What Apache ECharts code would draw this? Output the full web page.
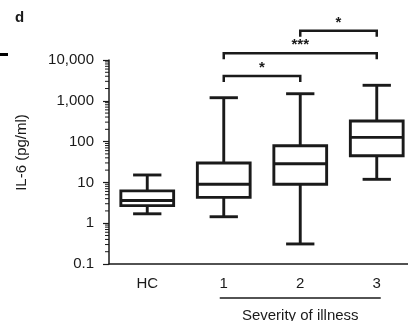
<!DOCTYPE html>
<html>
<head>
<meta charset="utf-8">
<script src="https://cdn.jsdelivr.net/npm/echarts@6/dist/echarts.min.js"></script>
<style>
html,body{margin:0;padding:0;background:#fff;}
#chart{width:408px;height:321px;}
</style>
</head>
<body>
<div id="chart"></div>
<script>
// ---- data ----
const categories = ['HC', '1', '2', '3'];
const whiskerMin = [1.7, 1.44, 0.31, 11.9];
const q1 = [2.7, 4.3, 9.0, 45];
const median = [3.6, 9.0, 28.7, 127];
const q3 = [6.2, 30, 79, 320];
const whiskerMax = [15.2, 1190, 1490, 2400];
const yTickValues = [0.1, 1, 10, 100, 1000, 10000];
const yTickLabels = ['0.1', '1', '10', '100', '1,000', '10,000'];
const minorMultipliers = [2, 3, 4, 5, 6, 7, 8, 9];
const comparisonFrom = [1, 1, 2];
const comparisonTo = [2, 3, 3];
const comparisonLevels = [4050, 14600, 52300];
const comparisonLabels = ['*', '***', '*'];
const groupLabel = 'Severity of illness';
const yAxisTitle = 'IL-6 (pg/ml)';
const panelLetter = 'd';

// ---- build ----
const ink = '#1a1a1a';
const font = 'Liberation Sans, Arial, sans-serif';
const boxData = categories.map((c, i) => [i, whiskerMin[i], q1[i], median[i], q3[i], whiskerMax[i]]);
const minorData = [];
yTickValues.slice(0, -1).forEach(d => minorMultipliers.forEach(m => minorData.push([0, d * m])));
const bracketData = comparisonLevels.map((lv, i) => [comparisonFrom[i], comparisonTo[i], lv]);

function bandOf(api, v) {
  return api.coord([1, v])[0] - api.coord([0, v])[0];
}

const chart = echarts.init(document.getElementById('chart'), null, {renderer: 'canvas'});
chart.setOption({
  animation: false,
  backgroundColor: '#fff',
  grid: {left: 109, top: 60, right: -7, bottom: 57, containLabel: false, outerBoundsMode: 'none'},
  xAxis: {
    type: 'category',
    data: categories,
    axisLine: {lineStyle: {color: ink, width: 1.5}},
    axisTick: {alignWithLabel: true, length: 5, lineStyle: {color: ink, width: 1.5}},
    axisLabel: {color: ink, fontSize: 15, fontFamily: font, margin: 12},
    splitLine: {show: false}
  },
  yAxis: {
    type: 'log',
    logBase: 10,
    min: 0.1,
    max: 10000,
    axisLine: {show: true, lineStyle: {color: ink, width: 1.5}},
    axisTick: {show: true, length: 6, lineStyle: {color: ink, width: 1.2}},
    axisLabel: {
      color: ink, fontSize: 15, fontFamily: font, margin: 15,
      formatter: v => {
        const idx = yTickValues.findIndex(t => Math.abs(Math.log10(t) - Math.log10(v)) < 1e-6);
        return idx >= 0 ? yTickLabels[idx] : '';
      }
    },
    splitLine: {show: false}
  },
  graphic: [
    {type: 'text', left: 15, top: 10, style: {text: panelLetter, fill: ink, font: 'bold 15px ' + font}},
    {type: 'rect', shape: {x: 0, y: 53, width: 8, height: 3}, style: {fill: '#000'}},
    {type: 'text', x: 22, y: 152.5, rotation: Math.PI / 2,
      style: {text: yAxisTitle, fill: ink, font: '15px ' + font, align: 'center', verticalAlign: 'middle'}}
  ],
  series: [
    {
      type: 'custom',
      name: 'minorTicks',
      clip: false,
      silent: true,
      encode: {x: 0, y: 1},
      data: minorData,
      renderItem: (params, api) => {
        const v = api.value(1);
        const p = api.coord([0, v]);
        const x0 = p[0] - bandOf(api, v) / 2;
        return {type: 'line', shape: {x1: x0 - 4, y1: p[1], x2: x0, y2: p[1]},
          style: {stroke: ink, lineWidth: 1}};
      }
    },
    {
      type: 'custom',
      name: 'IL-6',
      clip: false,
      encode: {x: 0, y: [1, 2, 3, 4, 5]},
      data: boxData,
      renderItem: (params, api) => {
        const x = api.value(0);
        const pMin = api.coord([x, api.value(1)]);
        const pQ1 = api.coord([x, api.value(2)]);
        const pMed = api.coord([x, api.value(3)]);
        const pQ3 = api.coord([x, api.value(4)]);
        const pMax = api.coord([x, api.value(5)]);
        const band = bandOf(api, api.value(3));
        const bw = band * 0.69, cw = band * 0.37;
        const cx = pMed[0];
        const st = {stroke: ink, lineWidth: 2.9, fill: null};
        return {
          type: 'group',
          children: [
            {type: 'line', shape: {x1: cx, y1: pMax[1], x2: cx, y2: pQ3[1]}, style: st},
            {type: 'line', shape: {x1: cx, y1: pQ1[1], x2: cx, y2: pMin[1]}, style: st},
            {type: 'line', shape: {x1: cx - cw / 2, y1: pMax[1], x2: cx + cw / 2, y2: pMax[1]}, style: st},
            {type: 'line', shape: {x1: cx - cw / 2, y1: pMin[1], x2: cx + cw / 2, y2: pMin[1]}, style: st},
            {type: 'rect', shape: {x: cx - bw / 2, y: pQ3[1], width: bw, height: pQ1[1] - pQ3[1]},
              style: {stroke: ink, lineWidth: 2.9, fill: '#fff'}},
            {type: 'line', shape: {x1: cx - bw / 2, y1: pMed[1], x2: cx + bw / 2, y2: pMed[1]}, style: st}
          ]
        };
      }
    },
    {
      type: 'custom',
      name: 'brackets',
      clip: false,
      silent: true,
      encode: {x: [0, 1], y: 2},
      data: bracketData,
      renderItem: (params, api) => {
        const a = api.coord([api.value(0), api.value(2)]);
        const b = api.coord([api.value(1), api.value(2)]);
        const st = {stroke: ink, lineWidth: 2.5, fill: null};
        const drop = 6;
        return {
          type: 'group',
          children: [
            {type: 'polyline', shape: {points: [[a[0], a[1] + drop], [a[0], a[1]], [b[0], b[1]], [b[0], b[1] + drop]]}, style: st},
            {type: 'text', x: (a[0] + b[0]) / 2, y: a[1] - 8,
              style: {text: comparisonLabels[params.dataIndex], fill: ink, font: 'bold 15px ' + font, align: 'center', verticalAlign: 'middle'}}
          ]
        };
      }
    },
    {
      type: 'custom',
      name: 'groupLabel',
      clip: false,
      silent: true,
      encode: {x: [0, 1]},
      data: [[1, 3]],
      renderItem: (params, api) => {
        const a = api.coord([api.value(0), 0.1]);
        const b = api.coord([api.value(1), 0.1]);
        const y = a[1] + 34;
        return {
          type: 'group',
          children: [
            {type: 'line', shape: {x1: a[0] - 4, y1: y, x2: b[0] + 4, y2: y}, style: {stroke: ink, lineWidth: 1.3}},
            {type: 'text', x: (a[0] + b[0]) / 2, y: y + 10,
              style: {text: groupLabel, fill: ink, font: '15px ' + font, align: 'center', verticalAlign: 'top'}}
          ]
        };
      }
    }
  ]
});
</script>
</body>
</html>
